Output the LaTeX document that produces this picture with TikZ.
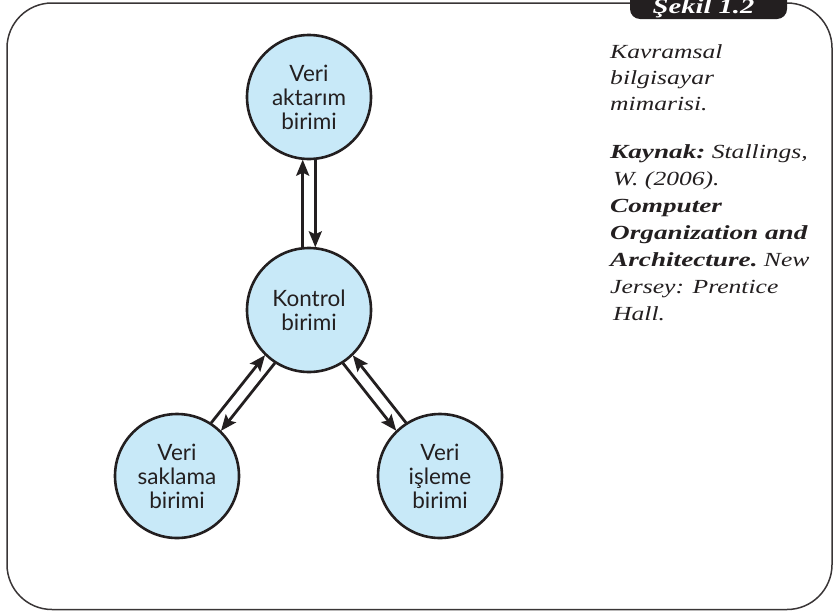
\documentclass[tikz,border=0pt]{standalone}
\usepackage{fontspec}
\setmainfont{Liberation Serif}
\newfontfamily\circfont{Lato}
\newfontfamily\capfont[FakeStretch=1.28,BoldItalicFeatures={FakeStretch=1.36}]{Liberation Serif}
\usetikzlibrary{arrows.meta,calc}
\definecolor{ink}{HTML}{231F20}
\definecolor{unitblue}{RGB}{200,233,248}
\tikzset{
  unit/.style={circle, draw=ink, fill=unitblue, line width=2.6pt, minimum size=124pt,
    inner sep=0pt, align=center, text=ink, font=\circfont\fontsize{22.5}{24}\selectfont},
  arr/.style={draw=ink, line width=2.8pt, -{Stealth[length=16pt,width=13pt,inset=3pt]},
    shorten <=62.7pt, shorten >=62.7pt},
  captext/.style={anchor=base west, inner sep=0pt, text=ink,
    font=\capfont\fontsize{20}{26}\selectfont\itshape},
}
\begin{document}
\begin{tikzpicture}[x=1pt,y=-1pt]
\useasboundingbox (0,0) rectangle (837,613);
\clip (0,0) rectangle (837,613);
% frame
\draw[ink!90, line width=1.5pt, rounded corners=45pt] (7,3) rectangle (832,609.5);
% tab
\fill[ink, rounded corners=10pt] (630,-20) rectangle (787,19);
\node[anchor=base, inner sep=0pt, text=white,
  font=\capfont\fontsize{21}{24}\selectfont\bfseries\itshape] (tab) at (703.5,13.5) {Şekil 1.2};
% units
\node[unit] (top) at (309,97) {Veri\\aktarım\\birimi};
\node[unit] (ctrl) at (309,310) {Kontrol\\birimi};
\node[unit] (sakl) at (177,476) {Veri\\saklama\\birimi};
\node[unit] (isl) at (440,476) {Veri\\işleme\\birimi};
% connectors
\draw[arr] ($(ctrl)!6.3pt!90:(top)$) -- ($(top)!6.3pt!-90:(ctrl)$);
\draw[arr] ($(top)!6.3pt!90:(ctrl)$) -- ($(ctrl)!6.3pt!-90:(top)$);
\draw[arr] ($(sakl)!6.3pt!90:(ctrl)$) -- ($(ctrl)!6.3pt!-90:(sakl)$);
\draw[arr] ($(ctrl)!6.3pt!90:(sakl)$) -- ($(sakl)!6.3pt!-90:(ctrl)$);
\draw[arr] ($(isl)!6.3pt!-90:(ctrl)$) -- ($(ctrl)!6.3pt!90:(isl)$);
\draw[arr] ($(ctrl)!6.3pt!-90:(isl)$) -- ($(isl)!6.3pt!90:(ctrl)$);
% caption
\node[captext] (c1) at (610,58) {Kavramsal};
\node[captext] (c2) at (610,84) {bilgisayar};
\node[captext] (c3) at (610,110) {mimarisi.};
\node[captext] (c4) at (610,158) {\bfseries Kaynak:\mdseries\ Stallings,};
\node[captext] (c5) at (613,185) {W. (2006).};
\node[captext] (c6) at (610,212) {\bfseries Computer};
\node[captext] (c7) at (610,239) {\bfseries Organization and};
\node[captext] (c8) at (610,266) {\bfseries Architecture.\mdseries\ New};
\node[captext] (c9) at (610,293) {Jersey: Prentice};
\node[captext] (c10) at (613,320) {Hall.};
\end{tikzpicture}
\end{document}
